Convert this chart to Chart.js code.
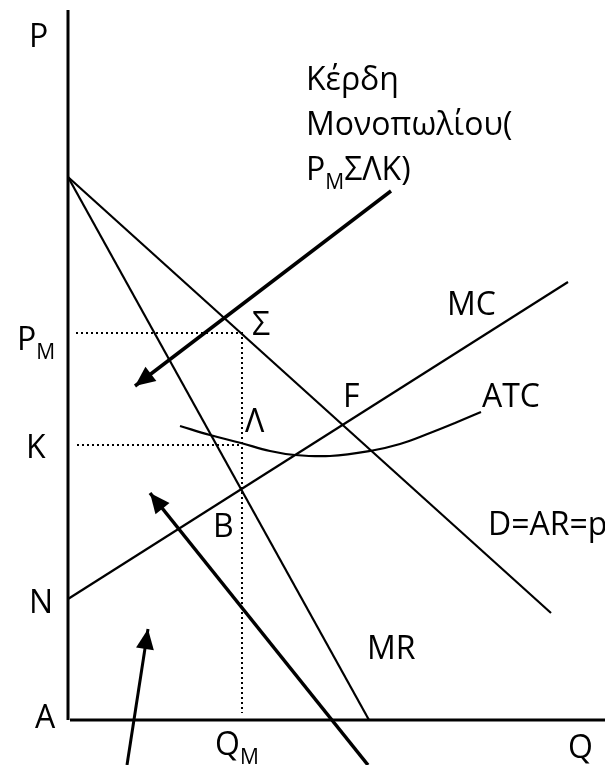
<!DOCTYPE html>
<html lang="el">
<head>
    <meta charset="UTF-8">
    <title>Monopoly</title>
    <script src="https://cdn.jsdelivr.net/npm/chart.js"></script>
    <style>
        body { margin: 0; background: #fff; }
        canvas { display: block; }
    </style>
</head>
<body>
<canvas id="monoChart" width="605" height="765"></canvas>
<script>
    // values (origin A = 0,0)
    const demandQ = [0, 48.3];
    const demandP = [54.3, 10.7];
    const mrQ = [0, 30.1];
    const mrP = [54.3, 0];
    const mcQ = [0, 50];
    const mcP = [12.1, 43.8];
    const atcQ = [11.2, 14.2, 17.3, 20.2, 22.7, 26.2, 30.2, 33.2, 36.2, 38.7, 41.3];
    const atcP = [29.4, 28.5, 27.7, 26.9, 26.5, 26.4, 26.9, 27.6, 28.7, 29.7, 30.8];
    const qM = 17.4;
    const pM = 38.7;
    const kLevel = 27.5;

    // arrows: [start, tip]
    const profitArrow = [[32.3, 52.9], [6.7, 33.4]];
    const costArrow = [[30.0, -4.5], [8.2, 22.7]];
    const thirdArrow = [[5.9, -4.5], [8.0, 9.1]];

    function pts(xs, ys) {
        return xs.map((x, i) => ({ x: x, y: ys[i] }));
    }
    function pair(a) {
        return a.map(p => ({ x: p[0], y: p[1] }));
    }

    const black = '#000';
    const lineSet = (data, extra) => Object.assign({
        data: data, showLine: true, borderColor: black, borderWidth: 2.2,
        pointRadius: 0, tension: 0, fill: false
    }, extra || {});

    const labels = [
        { t: 'P', x: -3.9, y: 67.3 },
        { t: 'Κέρδη', x: 23.8, y: 63.0 },
        { t: 'Μονοπωλίου(', x: 23.8, y: 58.5 },
        { t: 'P', sub: 'M', after: 'ΣΛΚ)', x: 23.8, y: 54.0 },
        { t: 'P', sub: 'M', x: -5.1, y: 37.0 },
        { t: 'Σ', x: 18.4, y: 38.5 },
        { t: 'MC', x: 37.9, y: 40.5 },
        { t: 'F', x: 27.5, y: 31.3 },
        { t: 'ATC', x: 41.4, y: 31.3 },
        { t: 'Λ', x: 17.7, y: 28.8 },
        { t: 'K', x: -4.2, y: 26.2 },
        { t: 'B', x: 14.5, y: 18.3 },
        { t: 'D=AR=p', x: 42.0, y: 18.5 },
        { t: 'N', x: -3.9, y: 10.7 },
        { t: 'MR', x: 29.9, y: 6.1 },
        { t: 'A', x: -3.3, y: -0.8 },
        { t: 'Q', sub: 'M', x: 14.7, y: -3.5 },
        { t: 'Q', x: 50.0, y: -3.8 }
    ];

    const textPlugin = {
        id: 'texts',
        afterDatasetsDraw(chart) {
            const c = chart.ctx;
            const xs = chart.scales.x, ys = chart.scales.y;
            c.save();
            c.fillStyle = black;
            c.textBaseline = 'alphabetic';
            labels.forEach(l => {
                let px = xs.getPixelForValue(l.x);
                const py = ys.getPixelForValue(l.y);
                c.font = '32px "Open Sans"';
                c.fillText(l.t, px, py);
                px += c.measureText(l.t).width;
                if (l.sub) {
                    c.font = '21px "Open Sans"';
                    c.fillText(l.sub, px, py + 9);
                    px += c.measureText(l.sub).width;
                }
                if (l.after) {
                    c.font = '32px "Open Sans"';
                    c.fillText(l.after, px, py);
                }
            });
            c.restore();
        }
    };

    const arrowPlugin = {
        id: 'arrowHeads',
        afterDatasetsDraw(chart) {
            const c = chart.ctx;
            chart.data.datasets.forEach((ds, i) => {
                if (!ds.arrowHead) return;
                const pts = chart.getDatasetMeta(i).data;
                const a = pts[pts.length - 2], b = pts[pts.length - 1];
                const ang = Math.atan2(b.y - a.y, b.x - a.x);
                const len = 20, half = 9;
                c.save();
                c.fillStyle = black;
                c.translate(b.x, b.y);
                c.rotate(ang);
                c.beginPath();
                c.moveTo(0, 0);
                c.lineTo(-len, -half);
                c.lineTo(-len, half);
                c.closePath();
                c.fill();
                c.restore();
            });
        }
    };

    const ctx = document.getElementById('monoChart').getContext('2d');
    const monoChart = new Chart(ctx, {
        type: 'scatter',
        data: {
            datasets: [
                // axes
                lineSet([{ x: 0, y: 0 }, { x: 0, y: 71 }], { borderWidth: 3 }),
                lineSet([{ x: 0.2, y: 0 }, { x: 53.7, y: 0 }], { borderWidth: 3 }),
                // dotted guides
                lineSet([{ x: 0.8, y: pM }, { x: qM, y: pM }, { x: qM, y: 0.7 }], { borderWidth: 2, borderDash: [2, 3] }),
                lineSet([{ x: 0.9, y: kLevel }, { x: qM, y: kLevel }], { borderWidth: 2, borderDash: [2, 3] }),
                // curves
                lineSet(pts(demandQ, demandP)),
                lineSet(pts(mrQ, mrP)),
                lineSet(pts(mcQ, mcP)),
                lineSet(pts(atcQ, atcP), { tension: 0.4 }),
                // arrows
                lineSet(pair(profitArrow), { borderWidth: 3.5, arrowHead: true }),
                lineSet(pair(costArrow), { borderWidth: 3.5, arrowHead: true }),
                lineSet(pair(thirdArrow), { borderWidth: 3, arrowHead: true })
            ]
        },
        options: {
            responsive: false,
            animation: false,
            layout: { padding: 0 },
            plugins: { legend: { display: false }, tooltip: { enabled: false } },
            scales: {
                x: { type: 'linear', display: false, min: -6.8, max: 53.7 },
                y: { type: 'linear', display: false, min: -4.5, max: 72 }
            }
        },
        plugins: [arrowPlugin, textPlugin]
    });
</script>
</body>
</html>
